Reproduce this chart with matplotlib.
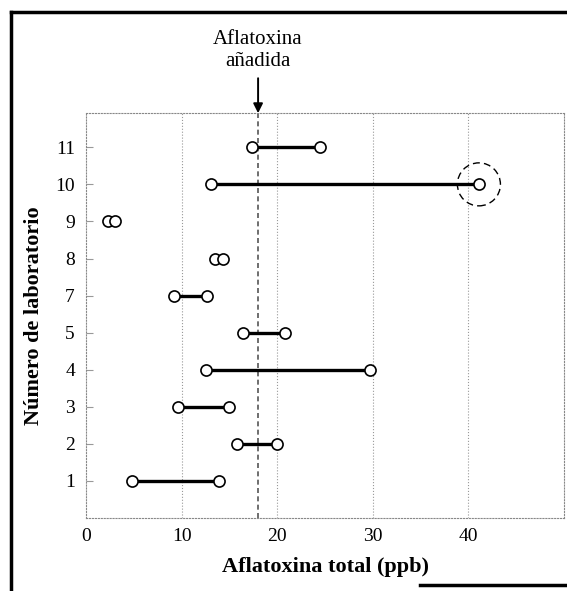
import numpy as np
import matplotlib
matplotlib.use('Agg')
import matplotlib.pyplot as plt
from matplotlib.patches import Ellipse
from matplotlib.lines import Line2D

# lab results (two replicates per lab)
labs = ['1', '2', '3', '4', '5', '7', '8', '9', '10', '11']
low = [4.8, 15.8, 9.6, 12.6, 16.4, 9.2, 13.5, 2.3, 13.1, 17.4]
high = [13.9, 20.0, 15.0, 29.7, 20.8, 12.7, 14.3, 3.0, 41.1, 24.5]
added = 18.0
xticks = [0, 10, 20, 30, 40]

plt.rcParams['font.family'] = ['Liberation Serif', 'DejaVu Serif']

fig = plt.figure(figsize=(5.67, 5.91), dpi=100)
ax = fig.add_axes([0.1517, 0.1235, 0.843, 0.685])

ypos = np.arange(1, len(labs) + 1)

# vertical grid
for xv in xticks[1:]:
    ax.axvline(xv, color='#999999', lw=0.8, ls=':', zorder=0)

# added aflatoxin reference
ax.axvline(added, color='#555555', lw=1.2, ls=(0, (3, 2)), zorder=1)

for y, a, b in zip(ypos, low, high):
    ax.plot([a, b], [y, y], color='black', lw=2.4, zorder=2)
    ax.plot([a, b], [y, y], ls='none', marker='o', ms=8, mfc='white',
            mec='black', mew=1.2, zorder=3)

# dashed circle around the outlier of lab 10
i10 = labs.index('10')
ax.add_patch(Ellipse((high[i10], ypos[i10]), 4.5, 1.16, fill=False,
                     ls=(0, (5, 3)), lw=1.0, color='black', zorder=3))

ax.set_xlim(0, 50)
ax.set_ylim(0, 10.92)
ax.set_xticks(xticks)
ax.set_yticks(ypos)
ax.set_yticklabels(labs)
ax.tick_params(axis='x', length=0, labelsize=14, pad=7)
ax.tick_params(axis='y', direction='in', length=5, color='#999999',
               labelsize=14, pad=8)
for s in ax.spines.values():
    s.set_color('#888888')
    s.set_linewidth(0.8)
    s.set_linestyle(':')

ax.set_xlabel('Aflatoxina total (ppb)', fontsize=16, fontweight='bold',
              labelpad=9)
ax.set_ylabel('Número de laboratorio', fontsize=16, fontweight='bold',
              labelpad=8)

ax.annotate('Aflatoxina\nañadida', xy=(added, 10.92), xytext=(added, 12.05),
            xycoords='data', textcoords='data', ha='center', va='bottom',
            fontsize=15, linespacing=1.2, annotation_clip=False,
            arrowprops=dict(arrowstyle='-|>', color='black', lw=1.4,
                            shrinkA=3, shrinkB=0, mutation_scale=14))

# outer frame of the scanned figure
fig.add_artist(Line2D([0.02, 0.02], [0.0, 0.98], color='black', lw=2.5,
                      transform=fig.transFigure))
fig.add_artist(Line2D([0.02, 1.0], [0.98, 0.98], color='black', lw=2.5,
                      transform=fig.transFigure))
fig.add_artist(Line2D([0.74, 1.0], [0.01, 0.01], color='black', lw=2.5,
                      transform=fig.transFigure))

fig.savefig('out.png', dpi=100)
